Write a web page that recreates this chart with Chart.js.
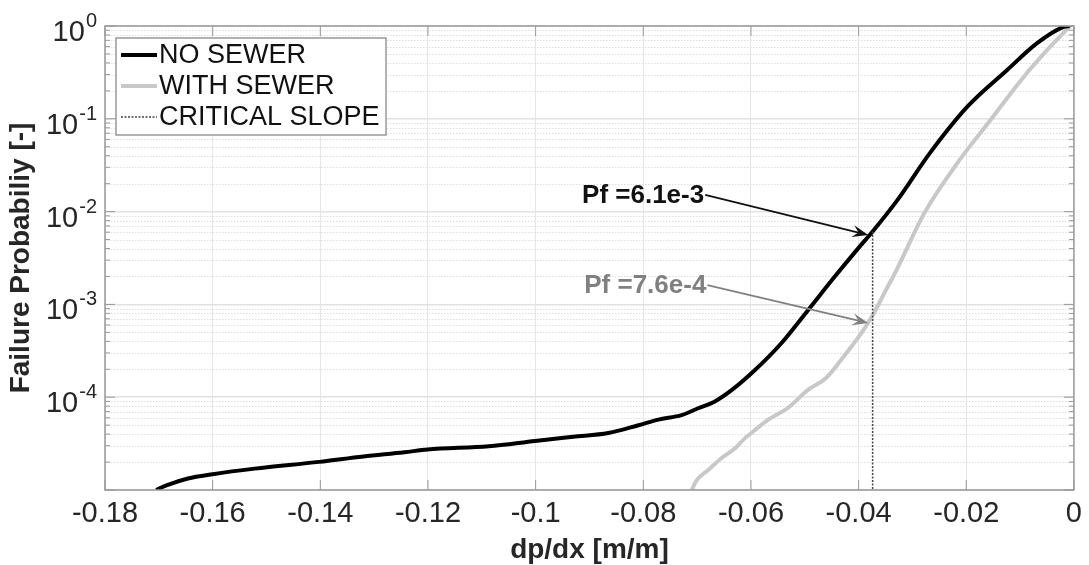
<!DOCTYPE html>
<html>
<head>
<meta charset="utf-8">
<script src="https://cdn.jsdelivr.net/npm/chart.js"></script>
<style>
html, body { margin: 0; padding: 0; background: #fff; }
#wrap { width: 1089px; height: 565px; position: relative; }
</style>
</head>
<body>
<div id="wrap"><canvas id="chart"></canvas></div>
<script>
// values
var noSewerX = [-0.1705, -0.1686, -0.1646, -0.160, -0.1522, -0.1402, -0.1320, -0.1244, -0.1201, -0.1087, -0.1001, -0.0930, -0.0865, -0.0809, -0.0772, -0.0729, -0.0698, -0.0667, -0.0636, -0.0593, -0.0544, -0.0494, -0.0445, -0.0402, -0.0374, -0.0328, -0.0268, -0.0198, -0.0124, -0.0069, -0.0019, -0.0008];
var noSewerY = [1.0e-5, 1.12e-5, 1.33e-5, 1.48e-5, 1.70e-5, 2.01e-5, 2.3e-5, 2.55e-5, 2.73e-5, 2.96e-5, 3.38e-5, 3.75e-5, 4.12e-5, 4.99e-5, 5.74e-5, 6.4e-5, 7.6e-5, 9.0e-5, 1.19e-4, 1.95e-4, 3.79e-4, 8.67e-4, 1.97e-3, 3.94e-3, 6.1e-3, 1.33e-2, 4.24e-2, 0.135, 0.336, 0.65, 0.98, 1.0];

var withSewerX = [-0.0710, -0.0701, -0.0680, -0.0655, -0.0630, -0.0612, -0.0593, -0.0569, -0.0531, -0.0494, -0.0461, -0.0433, -0.0396, -0.0374, -0.0350, -0.0328, -0.0278, -0.0217, -0.0155, -0.0093, -0.0044, -0.0007];
var withSewerY = [1.0e-5, 1.27e-5, 1.63e-5, 2.2e-5, 2.8e-5, 3.58e-5, 4.4e-5, 5.65e-5, 7.7e-5, 1.2e-4, 1.6e-4, 2.5e-4, 4.8e-4, 7.6e-4, 1.4e-3, 2.45e-3, 9.6e-3, 3.31e-2, 9.7e-2, 0.284, 0.598, 1.0];

var critX = [-0.0374, -0.0374];
var critY = [6.1e-3, 1.0e-5];

var seriesLabels = ['NO SEWER', 'WITH SEWER', 'CRITICAL SLOPE'];
var xTicks = [-0.18, -0.16, -0.14, -0.12, -0.1, -0.08, -0.06, -0.04, -0.02, 0];
var yTicks = [1e-5, 1e-4, 1e-3, 1e-2, 1e-1, 1];
var yLabelValues = [1, 1e-1, 1e-2, 1e-3, 1e-4];
var yLabelExps = ['0', '-1', '-2', '-3', '-4'];

// annotations: text, arrow tail and tip in data units
var annotText = ['Pf =6.1e-3', 'Pf =7.6e-4'];
var annotColor = ['#111111', '#808080'];
var annotTailX = [-0.0685, -0.0681];
var annotTailY = [1.51e-2, 1.61e-3];
var annotTipX = [-0.0382, -0.0382];
var annotTipY = [5.6e-3, 6.3e-4];

var FONT = '"Liberation Sans", Arial, sans-serif';

function pts(xs, ys) {
    return xs.map(function (v, i) { return {x: v, y: ys[i]}; });
}

var matlabAxes = {
    id: 'matlabAxes',
    beforeDatasetsDraw: function (chart) {
        var ctx = chart.ctx, a = chart.chartArea, y = chart.scales.y;
        ctx.save();
        ctx.strokeStyle = '#dedede';
        ctx.lineWidth = 1;
        ctx.setLineDash([1.5, 1.5]);
        for (var e = -5; e < 0; e++) {
            for (var m = 2; m <= 9; m++) {
                var py = Math.round(y.getPixelForValue(m * Math.pow(10, e))) + 0.5;
                ctx.beginPath(); ctx.moveTo(a.left, py); ctx.lineTo(a.right, py); ctx.stroke();
            }
        }
        ctx.restore();
    },
    afterDatasetsDraw: function (chart) {
        var ctx = chart.ctx, a = chart.chartArea, x = chart.scales.x, y = chart.scales.y;
        var i, e, m, p;
        ctx.save();

        // box
        ctx.strokeStyle = '#999999';
        ctx.lineWidth = 1.5;
        ctx.strokeRect(a.left, a.top, a.right - a.left, a.bottom - a.top);

        // inward ticks
        ctx.beginPath();
        xTicks.forEach(function (v) {
            p = x.getPixelForValue(v);
            ctx.moveTo(p, a.bottom); ctx.lineTo(p, a.bottom - 10);
            ctx.moveTo(p, a.top); ctx.lineTo(p, a.top + 10);
        });
        yTicks.forEach(function (v) {
            p = y.getPixelForValue(v);
            ctx.moveTo(a.left, p); ctx.lineTo(a.left + 10, p);
            ctx.moveTo(a.right, p); ctx.lineTo(a.right - 10, p);
        });
        for (e = -5; e < 0; e++) {
            for (m = 2; m <= 9; m++) {
                p = y.getPixelForValue(m * Math.pow(10, e));
                ctx.moveTo(a.left, p); ctx.lineTo(a.left + 5, p);
                ctx.moveTo(a.right, p); ctx.lineTo(a.right - 5, p);
            }
        }
        ctx.lineWidth = 1;
        ctx.stroke();

        // y tick labels 10^n
        ctx.fillStyle = '#262626';
        ctx.textBaseline = 'alphabetic';
        for (i = 0; i < yLabelValues.length; i++) {
            p = y.getPixelForValue(yLabelValues[i]);
            ctx.font = '20px ' + FONT;
            ctx.textAlign = 'right';
            var ew = ctx.measureText(yLabelExps[i]).width;
            ctx.fillText(yLabelExps[i], 97, p + 1);
            ctx.font = '29px ' + FONT;
            ctx.fillText('10', 97 - ew - 1, p + 15);
        }

        // annotations with arrows
        for (i = 0; i < annotText.length; i++) {
            var tx = x.getPixelForValue(annotTailX[i]), ty = y.getPixelForValue(annotTailY[i]);
            var hx = x.getPixelForValue(annotTipX[i]), hy = y.getPixelForValue(annotTipY[i]);
            ctx.strokeStyle = annotColor[i];
            ctx.fillStyle = annotColor[i];
            ctx.lineWidth = 1.8;
            var ang = Math.atan2(hy - ty, hx - tx);
            var L = 16, W = 6;
            var bx = hx - L * Math.cos(ang), by = hy - L * Math.sin(ang);
            ctx.beginPath(); ctx.moveTo(tx, ty); ctx.lineTo(hx - 8 * Math.cos(ang), hy - 8 * Math.sin(ang)); ctx.stroke();
            ctx.beginPath();
            ctx.moveTo(hx, hy);
            ctx.lineTo(bx - W * Math.sin(ang), by + W * Math.cos(ang));
            ctx.lineTo(hx - 10 * Math.cos(ang), hy - 10 * Math.sin(ang));
            ctx.lineTo(bx + W * Math.sin(ang), by - W * Math.cos(ang));
            ctx.closePath();
            ctx.fill();
            ctx.font = 'bold 26px ' + FONT;
            ctx.textAlign = 'right';
            ctx.textBaseline = 'middle';
            ctx.fillText(annotText[i], tx - 1, ty + 1);
        }

        // legend box
        var lx = a.left + 11, ly = a.top + 12, lw = 270, lh = 97;
        ctx.fillStyle = '#ffffff';
        ctx.fillRect(lx, ly, lw, lh);
        ctx.strokeStyle = '#999999';
        ctx.lineWidth = 1.5;
        ctx.setLineDash([]);
        ctx.strokeRect(lx, ly, lw, lh);
        chart.data.datasets.forEach(function (ds, k) {
            var ry = ly + 17 + k * 31;
            ctx.strokeStyle = ds.borderColor;
            ctx.lineWidth = ds.borderWidth;
            ctx.setLineDash(ds.borderDash || []);
            ctx.beginPath(); ctx.moveTo(lx + 5, ry); ctx.lineTo(lx + 41, ry); ctx.stroke();
            ctx.setLineDash([]);
            ctx.fillStyle = '#111111';
            ctx.font = '27px ' + FONT;
            ctx.textAlign = 'left';
            ctx.textBaseline = 'middle';
            ctx.fillText(ds.label, lx + 43, ry + 1);
        });
        ctx.restore();
    }
};

new Chart(document.getElementById('chart'), {
    type: 'line',
    data: {
        datasets: [
            {
                label: seriesLabels[0],
                data: pts(noSewerX, noSewerY),
                borderColor: '#000000',
                borderWidth: 4,
                pointRadius: 0,
                cubicInterpolationMode: 'monotone',
                order: 2
            },
            {
                label: seriesLabels[1],
                data: pts(withSewerX, withSewerY),
                borderColor: '#c8c8c8',
                borderWidth: 4,
                pointRadius: 0,
                cubicInterpolationMode: 'monotone',
                order: 3
            },
            {
                label: seriesLabels[2],
                data: pts(critX, critY),
                borderColor: '#444444',
                borderWidth: 1.5,
                borderDash: [2, 1.5],
                pointRadius: 0,
                order: 1
            }
        ]
    },
    options: {
        responsive: true,
        maintainAspectRatio: false,
        animation: false,
        devicePixelRatio: 1,
        layout: { padding: { top: 26, right: 12, left: 0, bottom: 0 } },
        plugins: {
            legend: { display: false },
            tooltip: { enabled: false }
        },
        scales: {
            x: {
                type: 'linear',
                min: -0.18,
                max: 0,
                afterBuildTicks: function (s) { s.ticks = xTicks.map(function (v) { return {value: v}; }); },
                afterFit: function (s) { s.height = 75; },
                ticks: {
                    autoSkip: false,
                    maxRotation: 0,
                    padding: 7,
                    color: '#262626',
                    font: { family: FONT, size: 29 },
                    callback: function (v) { return String(parseFloat(Number(v).toFixed(2))); }
                },
                grid: { color: '#e6e6e6', lineWidth: 1, drawTicks: false },
                border: { display: false },
                title: {
                    display: true,
                    text: 'dp/dx [m/m]',
                    color: '#262626',
                    font: { family: FONT, size: 28, weight: 'bold', lineHeight: 1 },
                    padding: { top: 0, bottom: 1 }
                }
            },
            y: {
                type: 'logarithmic',
                min: 1e-5,
                max: 1,
                afterBuildTicks: function (s) { s.ticks = yTicks.map(function (v) { return {value: v}; }); },
                afterFit: function (s) { s.width = 105; },
                ticks: { display: false },
                grid: { color: '#e2e2e2', lineWidth: 1.5, drawTicks: false },
                border: { display: false },
                title: {
                    display: true,
                    text: 'Failure Probabiliy [-]',
                    color: '#262626',
                    font: { family: FONT, size: 28, weight: 'bold', lineHeight: 1.2 },
                    padding: { top: 4, bottom: 0 }
                }
            }
        }
    },
    plugins: [matlabAxes]
});
</script>
</body>
</html>
